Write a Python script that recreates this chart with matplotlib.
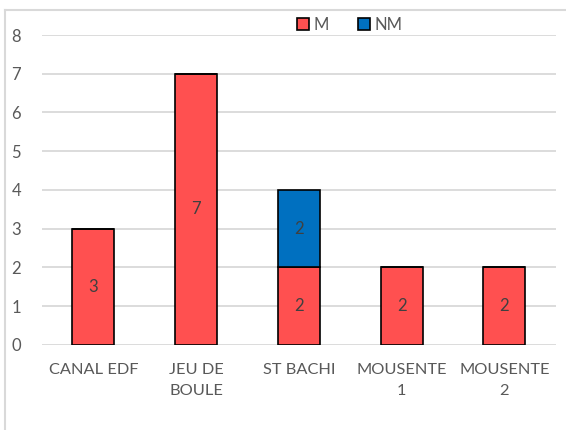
import matplotlib
matplotlib.use("Agg")
import matplotlib.pyplot as plt
from matplotlib.lines import Line2D
import numpy as np

plt.rcParams['font.family'] = ['Lato', 'DejaVu Sans']

categories = ["CANAL EDF", "JEU DE\nBOULE", "ST BACHI", "MOUSENTE\n1", "MOUSENTE\n2"]
m_values = [3, 7, 2, 2, 2]
nm_values = [0, 0, 2, 0, 0]

red = "#FF5050"
blue = "#0070C0"
grid_col = "#D9D9D9"
text_col = "#595959"
label_col = "#404040"

fig = plt.figure(figsize=(5.66, 4.3), dpi=100)
ax = fig.add_axes([0.0742, 0.1977, 0.9078, 0.7209])

x = np.arange(len(categories))
width = 0.41
bars_m = ax.bar(x, m_values, width, color=red, edgecolor="black", linewidth=1.2, label="M", zorder=3)
bars_nm = ax.bar(x, nm_values, width, bottom=m_values, color=blue, edgecolor="black",
                 linewidth=1.2, label="NM", zorder=3)

for rect, v in zip(bars_m, m_values):
    if v:
        ax.text(rect.get_x() + rect.get_width() / 2, v / 2, str(v), ha="center", va="center",
                color=label_col, fontsize=12, zorder=4)
for rect, b, v in zip(bars_nm, m_values, nm_values):
    if v:
        ax.text(rect.get_x() + rect.get_width() / 2, b + v / 2, str(v), ha="center", va="center",
                color=label_col, fontsize=12, zorder=4)

ax.set_xlim(-0.5, len(categories) - 0.5)
ax.set_ylim(0, 8)
ax.set_yticks(range(0, 9))
ax.yaxis.grid(True, color=grid_col, linewidth=1.3, zorder=0)
ax.set_axisbelow(True)
for s in ax.spines.values():
    s.set_visible(False)
ax.tick_params(axis="y", length=0, pad=15, labelsize=12, labelcolor=text_col)
ax.tick_params(axis="x", length=0, pad=13, labelsize=11.8, labelcolor=text_col)
ax.set_xticks(x)
ax.set_xticklabels(categories, linespacing=1.6)

leg = fig.legend(handles=[bars_m, bars_nm], labels=["M", "NM"], loc="center",
                 bbox_to_anchor=(0.618, 0.942), ncol=2, frameon=False, fontsize=12,
                 handlelength=0.7, handleheight=0.7, handletextpad=0.25, columnspacing=1.8)
for t in leg.get_texts():
    t.set_color(text_col)

# chart frame (left and top edges)
fig.add_artist(Line2D([0.0088, 0.0088], [0.0, 0.977], transform=fig.transFigure,
                      color=grid_col, linewidth=1.5))
fig.add_artist(Line2D([0.0088, 1.0], [0.977, 0.977], transform=fig.transFigure,
                      color=grid_col, linewidth=1.5))

fig.savefig("out.png", dpi=100, facecolor="white")
